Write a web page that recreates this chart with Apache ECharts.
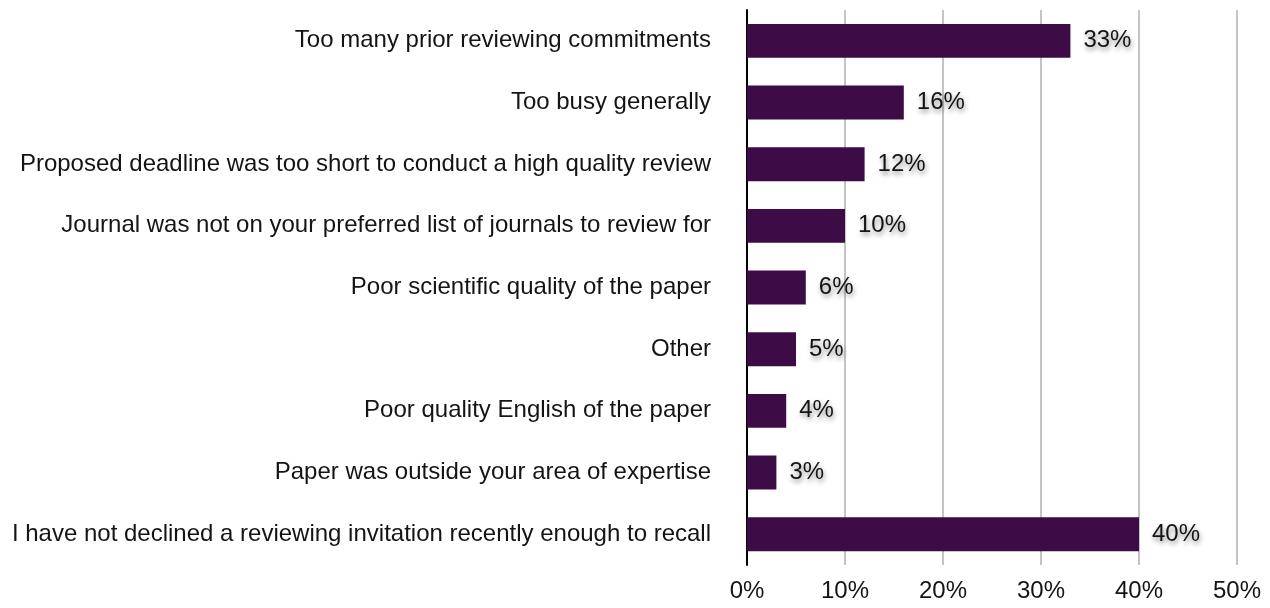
<!DOCTYPE html>
<html>
<head>
<meta charset="utf-8">
<script src="https://cdn.jsdelivr.net/npm/echarts@6/dist/echarts.min.js"></script>
<style>
  html, body { margin: 0; padding: 0; background: #fff; }
  #chart { width: 1270px; height: 608px; }
</style>
</head>
<body>
<div id="chart"></div>
<script>
// Reasons for declining a reviewing invitation (share of respondents, %)
const reasons = [
  'Too many prior reviewing commitments',
  'Too busy generally',
  'Proposed deadline was too short to conduct a high quality review',
  'Journal was not on your preferred list of journals to review for',
  'Poor scientific quality of the paper',
  'Other',
  'Poor quality English of the paper',
  'Paper was outside your area of expertise',
  'I have not declined a reviewing invitation recently enough to recall'
];
const shares = [33, 16, 12, 10, 6, 5, 4, 3, 40];
const axisTicks = [0, 10, 20, 30, 40, 50];

const FONT = '"Liberation Sans", Arial, Helvetica, sans-serif';
const TEXT = '#141414';
const chart = echarts.init(document.getElementById('chart'));
chart.setOption({
  animation: false,
  grid: { left: 747, right: 33, top: 10, bottom: 43, containLabel: false },
  xAxis: {
    type: 'value',
    min: axisTicks[0],
    max: axisTicks[axisTicks.length - 1],
    interval: axisTicks[1] - axisTicks[0],
    axisLine: { show: false },
    axisTick: { show: false },
    splitLine: { show: true, lineStyle: { color: '#c4c4c4', width: 2 } },
    axisLabel: {
      formatter: v => v + '%',
      color: TEXT, fontSize: 24, fontFamily: FONT, margin: 14
    }
  },
  yAxis: {
    type: 'category',
    data: reasons,
    inverse: true,
    axisLine: { show: true, lineStyle: { color: '#000', width: 2 } },
    axisTick: { show: false },
    axisLabel: {
      color: TEXT, fontSize: 24, fontFamily: FONT, margin: 36
    }
  },
  series: [{
    type: 'bar',
    data: shares,
    barWidth: '55%',
    itemStyle: { color: '#3d0b46' },
    label: {
      show: true,
      position: 'right',
      distance: 13,
      formatter: p => p.value + '%',
      color: TEXT, fontSize: 24, fontFamily: FONT,
      textShadowColor: 'rgba(0,0,0,0.45)',
      textShadowBlur: 5,
      textShadowOffsetX: 1,
      textShadowOffsetY: 3
    }
  }]
});
</script>
</body>
</html>
